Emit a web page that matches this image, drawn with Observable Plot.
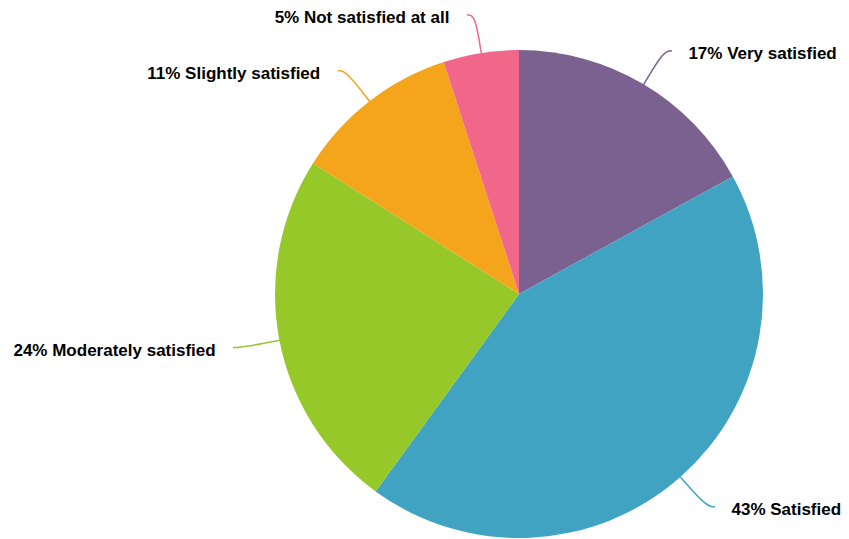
<!DOCTYPE html>
<html><head><meta charset="utf-8">
<script src="https://cdn.jsdelivr.net/npm/d3@7"></script>
<script src="https://cdn.jsdelivr.net/npm/@observablehq/plot@0.6"></script>
<style>html,body{margin:0;padding:0;background:#fff;overflow:hidden}</style>
</head><body><div id="chart"></div>
<script>
const categories = ["Very satisfied", "Satisfied", "Moderately satisfied", "Slightly satisfied", "Not satisfied at all"];
const values = [17, 43, 24, 11, 5];
const colors = ["#7b6190", "#40a3c2", "#96c829", "#f5a51b", "#f0678a"];

const pieGen = d3.pie().sort(null).value(d => d.value);
const slices = pieGen(categories.map((c, i) => ({category: c, value: values[i], color: colors[i]})))
  .map(p => ({...p.data, startAngle: p.startAngle, endAngle: p.endAngle, mid: (p.startAngle + p.endAngle) / 2}));

const R_CTRL = 1.16, HOFF = 0.032;
const ctrl = s => ({x: R_CTRL * Math.sin(s.mid), y: R_CTRL * Math.cos(s.mid)});
const side = s => Math.sin(s.mid) >= 0 ? 1 : -1;
const endPt = s => { const c = ctrl(s); return {x: c.x + side(s) * HOFF, y: c.y}; };

const leaders = slices.flatMap(s => {
  const c = ctrl(s), e = endPt(s);
  return [
    {category: s.category, color: s.color, x: Math.sin(s.mid), y: Math.cos(s.mid)},
    {category: s.category, color: s.color, x: c.x, y: c.y},
    {category: s.category, color: s.color, x: e.x, y: e.y}
  ];
});

function pieMark(index, scales) {
  const cx = scales.x(0), cy = scales.y(0), r = scales.x(1) - scales.x(0);
  const arc = d3.arc().innerRadius(0).outerRadius(r);
  const g = d3.create("svg:g").attr("transform", `translate(${cx},${cy})`);
  g.selectAll("path").data(slices).join("path")
    .attr("d", d => arc(d)).attr("fill", d => d.color);
  return g.node();
}

const labelOpts = {
  x: s => endPt(s).x, y: s => endPt(s).y,
  text: s => `${s.value}% ${s.category}`,
  dy: 3, fontWeight: "bold", fontSize: 17, fill: "#000"
};

const chart = Plot.plot({
  width: 849, height: 539,
  margin: 0,
  style: {fontFamily: "'Liberation Sans', Arial, Helvetica, sans-serif", background: "#fff"},
  x: {domain: [-1, 1], range: [275, 763], axis: null},
  y: {domain: [-1, 1], range: [538, 50], axis: null},
  color: {type: "identity"},
  marks: [
    pieMark,
    Plot.line(leaders, {x: "x", y: "y", z: "category", stroke: "color", strokeWidth: 1.5, curve: "basis"}),
    Plot.text(slices.filter(s => side(s) > 0), {...labelOpts, textAnchor: "start", dx: 17}),
    Plot.text(slices.filter(s => side(s) < 0), {...labelOpts, textAnchor: "end", dx: -18})
  ]
});
document.getElementById("chart").appendChild(chart);
</script>
</body></html>
